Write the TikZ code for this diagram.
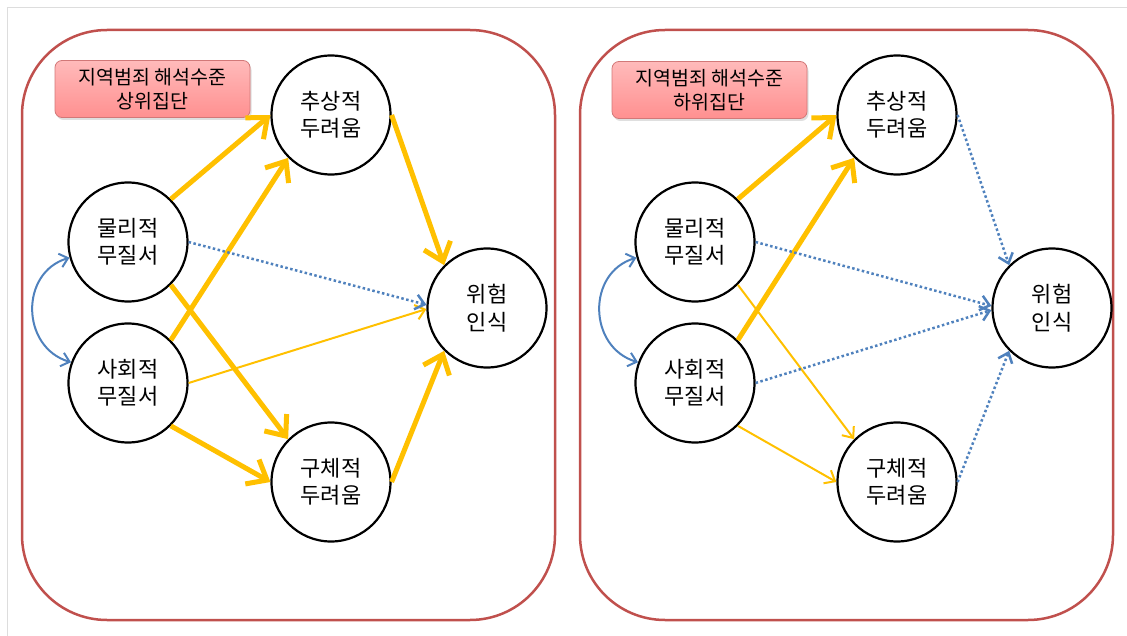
\documentclass[tikz,border=0pt]{standalone}
\usepackage{fontspec}
\newfontfamily\kr{Noto Sans CJK KR}
\usetikzlibrary{arrows.meta,shadows}
\definecolor{gold}{HTML}{FFC000}
\definecolor{steel}{HTML}{4F81BD}
\definecolor{panelred}{HTML}{C0504D}
\definecolor{tagborder}{HTML}{D27878}
\definecolor{tagtop}{HTML}{FFBABA}
\definecolor{tagbot}{HTML}{FF9090}
\definecolor{framegray}{HTML}{DDDDDD}
\begin{document}
\begin{tikzpicture}[x=1pt,y=-1pt,
  panel/.style={draw=panelred, line width=2.5pt, rounded corners=85pt},
  var/.style={circle, draw=black, fill=white, line width=2.2pt, minimum size=119pt, inner sep=0pt, align=center,
    font=\kr\fontsize{22}{27.5}\selectfont},
  tag/.style={draw=tagborder, line width=0.8pt, rounded corners=7pt, top color=tagtop, bottom color=tagbot,
    minimum width=195pt, minimum height=57pt, inner sep=0pt, align=center,
    font=\kr\fontsize{19.5}{23.5}\selectfont,
    drop shadow={shadow xshift=1.5pt, shadow yshift=-2.5pt, opacity=0.25}},
  strong/.style={draw=gold, line width=5pt, -{Straight Barb[length=17pt,width=28pt]}},
  weak/.style={draw=gold, line width=2pt, -{Straight Barb[length=9pt,width=15pt]}},
  nsig/.style={draw=steel, line width=2.5pt, dash pattern=on 2.5pt off 2.5pt, -{Straight Barb[length=9pt,width=15pt]}},
  corr/.style={draw=steel, line width=2pt, {Straight Barb[length=8pt,width=14pt]}-{Straight Barb[length=8pt,width=14pt]}}
]
\useasboundingbox (0,0) rectangle (1127,636);
% faint frame
\draw[framegray, line width=1pt] (7,636) -- (7,8) -- (1127,8);

% panels
\draw[panel] (22,30) rectangle (555,620);
\draw[panel] (580,30) rectangle (1113,620);

% ---------- left panel ----------
\node[tag] (tagA) at (152.5,89) {지역범죄 해석수준\\상위집단};
\node[var] (absA) at (331,115) {추상적\\두려움};
\node[var] (phyA) at (128,242) {물리적\\무질서};
\node[var] (socA) at (128,383) {사회적\\무질서};
\node[var] (conA) at (331,482) {구체적\\두려움};
\node[var] (riskA) at (487,308) {위험\\인식};

\draw[strong] (phyA.45) -- (absA.180);
\draw[strong] (socA.45) -- (absA.225);
\draw[strong] (phyA.-45) -- (conA.135);
\draw[strong] (socA.-45) -- (conA.180);
\draw[strong] (absA.0) -- (riskA.135);
\draw[strong] (conA.0) -- (riskA.225);
\draw[weak] (socA.0) -- (riskA.181);
\draw[nsig] (phyA.0) -- (riskA.177);
\draw[corr] (phyA.195) .. controls +(-50,15) and +(-50,-15) .. (socA.160);

% ---------- right panel ----------
\node[tag] (tagB) at (709.5,90) {지역범죄 해석수준\\하위집단};
\node[var] (absB) at (897,115) {추상적\\두려움};
\node[var] (phyB) at (695,242) {물리적\\무질서};
\node[var] (socB) at (695,383) {사회적\\무질서};
\node[var] (conB) at (897,482) {구체적\\두려움};
\node[var] (riskB) at (1052,308) {위험\\인식};

\draw[strong] (phyB.45) -- (absB.180);
\draw[strong] (socB.45) -- (absB.225);
\draw[weak] (phyB.-45) -- (conB.135);
\draw[weak] (socB.-45) -- (conB.180);
\draw[nsig] (absB.0) -- (riskB.135);
\draw[nsig] (phyB.0) -- (riskB.178);
\draw[nsig] (socB.0) -- (riskB.182);
\draw[nsig] (conB.0) -- (riskB.225);
\draw[corr] (phyB.195) .. controls +(-50,15) and +(-50,-15) .. (socB.160);
\end{tikzpicture}
\end{document}
